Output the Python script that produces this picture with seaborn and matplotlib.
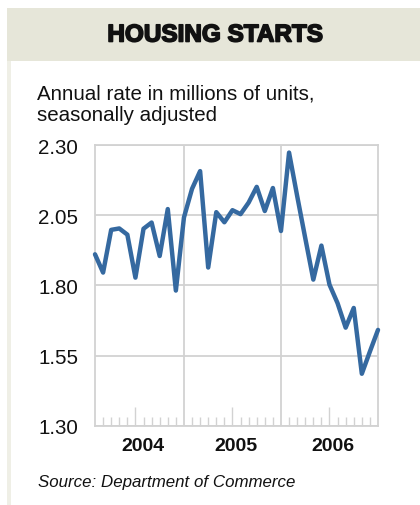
import matplotlib
matplotlib.use("Agg")
import matplotlib.pyplot as plt
import matplotlib.patheffects as pe
from matplotlib.patches import Rectangle
import matplotlib.transforms as mtransforms
import seaborn as sns
import pandas as pd

# ---- data ----
months = list(range(36))  # Jan 2004 .. Dec 2006
starts = [1.911, 1.846, 1.998, 2.003, 1.981, 1.828, 2.002, 2.024, 1.905, 2.072, 1.782, 2.042,
          2.144, 2.207, 1.864, 2.061, 2.025, 2.068, 2.054, 2.095, 2.151, 2.065, 2.147, 1.994,
          2.273, 2.119, 1.969, 1.821, 1.942, 1.803, 1.737, 1.650, 1.720, 1.486, 1.565, 1.642]
y_ticks = [1.30, 1.55, 1.80, 2.05, 2.30]
y_tick_labels = ["1.30", "1.55", "1.80", "2.05", "2.30"]
year_labels = ["2004", "2005", "2006"]
year_label_pos = [5.9, 17.4, 29.4]
year_bounds = [11, 23]
mid_year_ticks = [5, 17, 29]
title = "HOUSING STARTS"
subtitle = "Annual rate in millions of units,\nseasonally adjusted"
source = "Source: Department of Commerce"

df = pd.DataFrame({"month": months, "starts": starts})

sns.set_style("white")
plt.rcParams["font.family"] = ["Liberation Sans", "DejaVu Sans"]

W, H = 420, 506
fig = plt.figure(figsize=(W / 100, H / 100), dpi=100)
fig.patch.set_facecolor("white")

# header band and left strip
fig.patches.append(Rectangle((7 / W, 1 - 506 / H), 4 / W, (506 - 9) / H,
                             transform=fig.transFigure, facecolor="#efefe6", edgecolor="none", zorder=0))
fig.patches.append(Rectangle((7 / W, 1 - 62 / H), (W - 7) / W, (62 - 9) / H,
                             transform=fig.transFigure, facecolor="#e6e6d9", edgecolor="none", zorder=0))

fig.text(215 / W, 1 - 36 / H, title, ha="center", va="center", fontsize=17.5,
         fontweight="bold", color="#111111",
         path_effects=[pe.withStroke(linewidth=1.2, foreground="#111111")])
fig.text(37 / W, 1 - 85 / H, subtitle, ha="left", va="top", fontsize=14.8,
         color="#111111", linespacing=1.12)
fig.text(38 / W, 1 - 482 / H, source, ha="left", va="center", fontsize=12.2,
         style="italic", color="#111111")

ax = fig.add_axes([95 / W, 1 - 427 / H, 283 / W, 281 / H])
grid_c = "#d2d2d2"
sns.lineplot(data=df, x="month", y="starts", ax=ax, color="#3569a0", linewidth=3.2,
             solid_joinstyle="round", solid_capstyle="round", zorder=5, clip_on=False)

ax.set_xlim(0, 35)
ax.set_ylim(1.30, 2.30)
ax.set_yticks(y_ticks)
ax.set_yticklabels(y_tick_labels)
ax.set_xlabel("")
ax.set_ylabel("")

for y in y_ticks:
    ax.axhline(y, color=grid_c, linewidth=1.3, zorder=1)
for xb in year_bounds:
    ax.axvline(xb, color=grid_c, linewidth=1.3, zorder=1)
for s in ax.spines.values():
    s.set_color(grid_c)
    s.set_linewidth(1.3)

minor = [m for m in months if m not in year_bounds and m not in mid_year_ticks and m not in (0, 35)]
ax.set_xticks(mid_year_ticks)
ax.set_xticklabels([])
ax.set_xticks(minor, minor=True)
ax.tick_params(axis="x", which="major", bottom=True, direction="in", length=13.5, width=1.0, color=grid_c)
ax.tick_params(axis="x", which="minor", bottom=True, direction="in", length=6.5, width=1.0, color=grid_c)
ax.tick_params(axis="y", which="both", left=False, length=0, pad=12, labelsize=14.8, labelcolor="#111111")

trans = mtransforms.blended_transform_factory(ax.transData, ax.transAxes)
for lab, pos in zip(year_labels, year_label_pos):
    ax.text(pos, -20 / 281, lab, transform=trans, ha="center", va="center",
            fontsize=14, fontweight="bold", color="#111111")

fig.savefig("out.png", dpi=100)
